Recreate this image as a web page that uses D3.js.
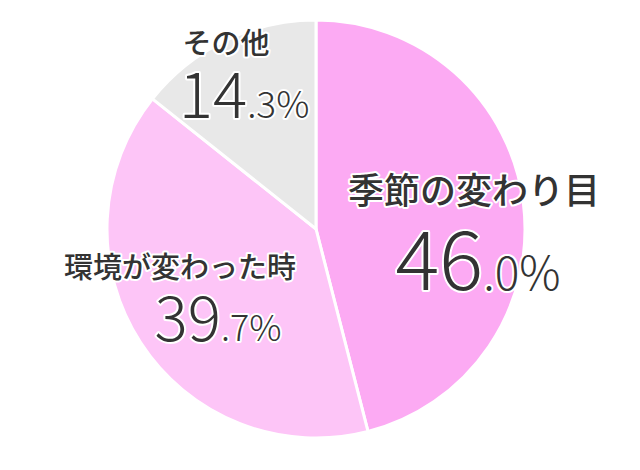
<!DOCTYPE html>
<html><head><meta charset="utf-8">
<script src="https://cdn.jsdelivr.net/npm/d3@7"></script>
<style>body{margin:0;background:#fff}</style>
</head><body>
<svg id="c" width="640" height="470"></svg>
<script>
const categories = ["季節の変わり目", "環境が変わった時", "その他"];
const values = [46.0, 39.7, 14.3];
const intParts = ["46", "39", "14"];
const decParts = [".0%", ".7%", ".3%"];
const colors = ["#fcaaf3", "#fdc5f7", "#e8e8e8"];

const svg = d3.select("#c");
const cx = 316, cy = 229, r = 209;
const g = svg.append("g").attr("transform", `translate(${cx},${cy})`);
const pie = d3.pie().sort(null).value(d => d)(values);
const arc = d3.arc().innerRadius(0).outerRadius(r);
g.selectAll("path").data(pie).join("path")
  .attr("d", arc).attr("fill", (d,i) => colors[i])
  .attr("stroke", "#fff").attr("stroke-width", 3);

const labelPos = [
  {nx: 474, ny: 204, fs: 36, vx: 478, vy: 290, big: 82, small: 46},
  {nx: 180, ny: 278, fs: 29, vx: 218, vy: 341, big: 62, small: 36},
  {nx: 226, ny: 54, fs: 29, vx: 244, vy: 118, big: 64, small: 37}
];
const font = "'Noto Sans CJK JP', sans-serif";
categories.forEach((c, i) => {
  const p = labelPos[i];
  svg.append("text").attr("x", p.nx).attr("y", p.ny)
    .attr("text-anchor", "middle").attr("font-family", font)
    .attr("font-weight", 500).attr("font-size", p.fs)
    .attr("fill", "#333").attr("stroke", "#fff").attr("stroke-width", 4)
    .attr("paint-order", "stroke").attr("stroke-linejoin", "round").text(c);
  const t = svg.append("text").attr("x", p.vx).attr("y", p.vy)
    .attr("text-anchor", "middle").attr("font-family", font)
    .attr("font-weight", 300).attr("fill", "#333")
    .attr("stroke", "#fff").attr("stroke-width", 4)
    .attr("paint-order", "stroke").attr("stroke-linejoin", "round");
  t.append("tspan").attr("font-size", p.big).text(intParts[i]);
  t.append("tspan").attr("font-size", p.small).text(decParts[i]);
});
</script>
</body></html>
